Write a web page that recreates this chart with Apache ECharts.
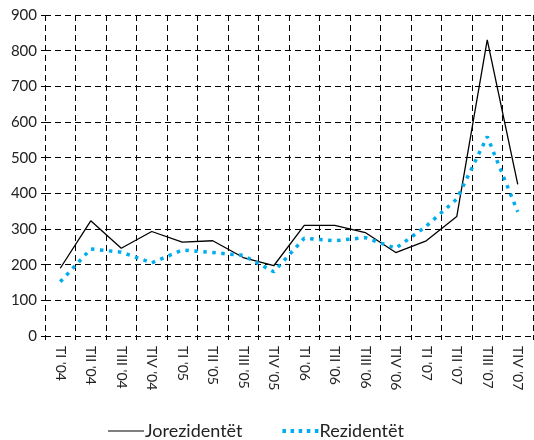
<!DOCTYPE html>
<html><head><meta charset="utf-8">
<script src="https://cdn.jsdelivr.net/npm/echarts@6/dist/echarts.min.js"></script>
<style>html,body{margin:0;padding:0;background:#fff}#c{width:534px;height:440px}</style>
</head><body><div id="c"></div>
<script>
const categories = ["TI '04","TII '04","TIII '04","TIV '04","TI '05","TII '05","TIII '05","TIV '05","TI '06","TII '06","TIII '06","TIV '06","TI '07","TII '07","TIII '07","TIV '07"];
const jorezidentet = [190,323,246,293,263,267,220,197,310,310,290,234,267,335,830,425];
const rezidentet = [152,244,235,205,241,234,226,180,274,267,276,246,308,384,559,348];
const yTicks = [0,100,200,300,400,500,600,700,800,900];

const FONT = 'Lato, "Noto Sans", sans-serif';
const chart = echarts.init(document.getElementById('c'));
chart.setOption({
  animation: false,
  grid: {left: 45, right: 1, top: 15, bottom: 104, containLabel: false},
  legend: {
    top: 417, left: 103, itemGap: 40, itemWidth: 36, itemHeight: 10,
    textStyle: {fontFamily: FONT, fontSize: 18, color: '#222', padding: [0,0,0,-4]},
    data: [
      {name: 'Jorezidentët', icon: 'path://M0,4.5H36V5.5H0Z', itemStyle: {color: '#000'}},
      {name: 'Rezidentët', icon: 'path://M0,3H3.5V7H0ZM8,3H11.5V7H8ZM16,3H19.5V7H16ZM24,3H27.5V7H24ZM32,3H35.5V7H32Z', itemStyle: {color: '#00AEEF'}}
    ]
  },
  xAxis: {
    type: 'category', data: categories, boundaryGap: true,
    axisLine: {show: false},
    axisTick: {show: true, length: 4, lineStyle: {color: '#000'}},
    axisLabel: {rotate: -90, fontFamily: FONT, fontSize: 14, color: '#222', margin: 10},
    splitLine: {show: true, lineStyle: {color: '#000', type: [6,4], width: 1}}
  },
  yAxis: {
    type: 'value', min: 0, max: 900, interval: 100,
    axisLine: {show: false},
    axisTick: {show: true, length: 4, lineStyle: {color: '#000'}},
    axisLabel: {fontFamily: FONT, fontSize: 15, color: '#222', margin: 8,
      formatter: v => yTicks.includes(v) ? String(v) : ''},
    splitLine: {show: true, lineStyle: {color: '#000', type: [6,4], width: 1}}
  },
  series: [
    {name: 'Jorezidentët', type: 'line', data: jorezidentet, symbol: 'none',
     lineStyle: {color: '#000', width: 1.3}, itemStyle: {color: '#000'}},
    {name: 'Rezidentët', type: 'line', data: rezidentet, symbol: 'none',
     lineStyle: {color: '#00AEEF', width: 3.5, type: [3.5,5.5]}, itemStyle: {color: '#00AEEF'}}
  ]
});
</script></body></html>
